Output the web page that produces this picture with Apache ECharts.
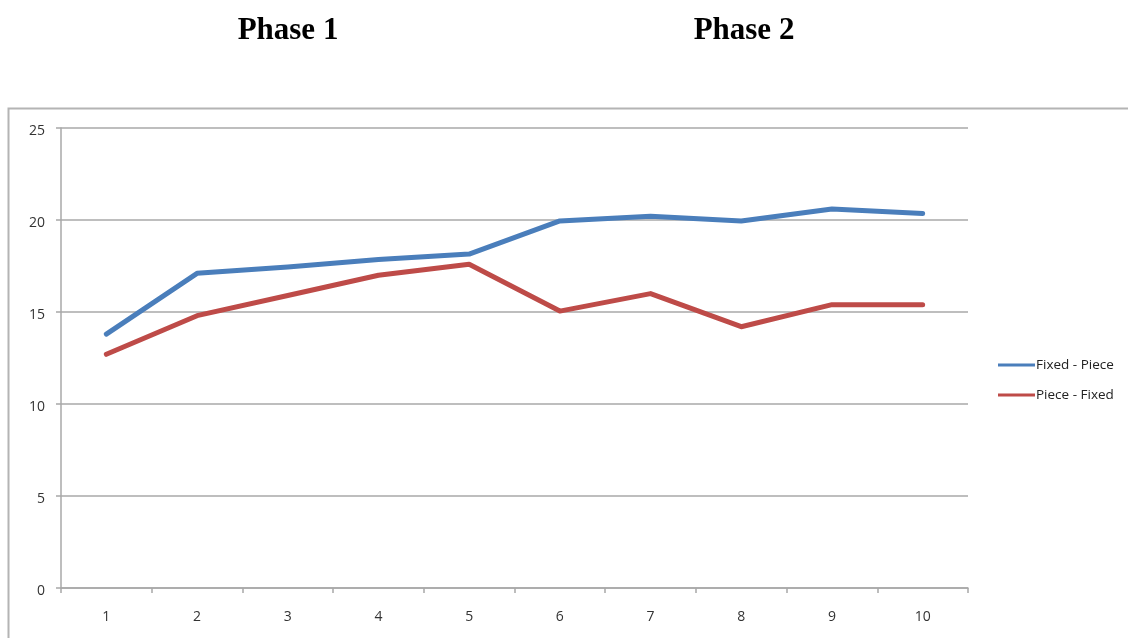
<!DOCTYPE html>
<html>
<head>
<meta charset="utf-8">
<script src="https://cdn.jsdelivr.net/npm/echarts@6/dist/echarts.min.js"></script>
<style>html,body{margin:0;padding:0;background:#fff;}#c{width:1128px;height:638px;}</style>
</head>
<body>
<div id="c"></div>
<script>
const categories = ['1','2','3','4','5','6','7','8','9','10'];
const fixedPiece = [13.8, 17.1, 17.45, 17.85, 18.15, 19.95, 20.2, 19.95, 20.6, 20.35];
const pieceFixed = [12.7, 14.8, 15.9, 17.0, 17.6, 15.05, 16.0, 14.2, 15.4, 15.4];
const seriesNames = ['Fixed - Piece', 'Piece - Fixed'];
const titles = ['Phase 1', 'Phase 2'];

const chart = echarts.init(document.getElementById('c'));
const lblFont = '"Open Sans", "Liberation Sans", sans-serif';
const titleStyle = {fontFamily: '"Liberation Serif", serif', fontWeight: 'bold', fontSize: 31, fill: '#000', align: 'center', verticalAlign: 'middle'};
chart.setOption({
  animation: false,
  backgroundColor: '#fff',
  graphic: [
    {type: 'rect', shape: {x: 8.5, y: 108.5, width: 1140, height: 560},
     style: {fill: 'none', stroke: '#b4b4b4', lineWidth: 2}, z: -1},
    {type: 'text', x: 288, y: 31, style: Object.assign({text: titles[0]}, titleStyle)},
    {type: 'text', x: 744, y: 31, style: Object.assign({text: titles[1]}, titleStyle)}
  ],
  legend: {
    orient: 'vertical', left: 993, top: 353, itemGap: 16,
    itemWidth: 37, itemHeight: 3, icon: 'rect',
    textStyle: {fontFamily: lblFont, fontSize: 13.5, color: '#222', padding: [0,0,0,-4]},
    data: seriesNames
  },
  grid: {left: 61, right: 160, top: 128, bottom: 50, containLabel: false},
  xAxis: {
    type: 'category', data: categories, boundaryGap: true,
    axisLine: {lineStyle: {color: '#a8a8a8', width: 1.5}},
    axisTick: {show: true, length: 5, lineStyle: {color: '#a8a8a8', width: 1.5}},
    axisLabel: {margin: 22, fontFamily: lblFont, fontSize: 14, color: '#333'}
  },
  yAxis: {
    type: 'value', min: 0, max: 25, interval: 5,
    axisLine: {show: true, lineStyle: {color: '#a8a8a8', width: 1.5}},
    axisTick: {show: true, length: 5, lineStyle: {color: '#a8a8a8', width: 1.5}},
    axisLabel: {margin: 16, formatter: '{a|{value}}',
      rich: {a: {fontFamily: lblFont, fontSize: 14, color: '#333', padding: [7,0,0,0]}}},
    splitLine: {lineStyle: {color: '#a8a8a8', width: 1.5}}
  },
  series: [
    {name: seriesNames[0], type: 'line', data: fixedPiece, symbol: 'none',
     lineStyle: {width: 5, color: '#4a7ebb', cap: 'round', join: 'round'}, itemStyle: {color: '#4a7ebb'}},
    {name: seriesNames[1], type: 'line', data: pieceFixed, symbol: 'none',
     lineStyle: {width: 5, color: '#be4b48', cap: 'round', join: 'round'}, itemStyle: {color: '#be4b48'}}
  ]
});
</script>
</body>
</html>
